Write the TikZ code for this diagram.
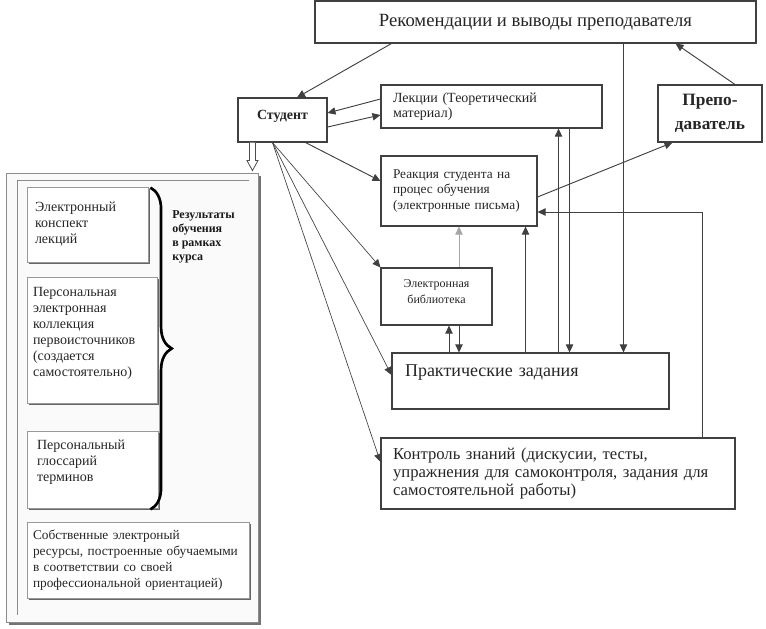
\documentclass[tikz,border=0pt]{standalone}
\usepackage{fontspec}
\setmainfont{Liberation Serif}
\usetikzlibrary{arrows.meta,calc,shadows,decorations.pathreplacing}

\tikzset{
  box/.style={draw=black!75, line width=0.8pt, fill=white, inner sep=0pt, text=black!85},
  lbox/.style={draw=black!40, line width=0.6pt, fill=white, inner ysep=0pt, align=left,
    text=black!85, font=\fontsize{10.5pt}{12pt}\selectfont,
    drop shadow={shadow xshift=1.5pt, shadow yshift=-1.5pt, fill=black!60, opacity=1}},
  conn/.style={draw=black!75, line width=0.7pt},
  arr/.style={conn, -{Triangle[length=6pt,width=5.5pt]}},
  fanarr/.style={arr, line width=0.5pt},
  brc/.style={decorate, decoration={brace, amplitude=16pt}, line width=2pt},
}

\begin{document}
\begin{tikzpicture}[x=0.75pt,y=-0.75pt]
	\useasboundingbox (0,0) rectangle (766,628);

	% main scheme
	\node[box, minimum width=330.75pt, minimum height=31.5pt, font=\fontsize{14pt}{16pt}\selectfont] (rek) at (535.5,22) {Рекомендации и выводы преподавателя};
	\node[box, minimum width=66.75pt, minimum height=33pt, text depth=7pt, font=\bfseries\fontsize{10.5pt}{12pt}\selectfont] (stud) at (282.5,120) {Студент};
	\node[box, minimum height=32.25pt, inner xsep=9pt, text width=147.75pt, align=left, font=\fontsize{10.5pt}{11.5pt}\selectfont] (lekc) at (491.5,106.5) {Лекции (Теоретический\\материал)};
	\node[box, minimum width=78pt, minimum height=42.75pt, align=center, font=\bfseries\fontsize{13pt}{18pt}\selectfont] (prep) at (710,113.5) {Препо-\\даватель};
	\node[box, minimum height=52.5pt, inner xsep=9pt, text width=99pt, align=left, font=\fontsize{10pt}{11.6pt}\selectfont] (reak) at (459,191) {Реакция студента на\\процес обучения\\(электронные письма)};
	\node[box, minimum height=42.75pt, text width=83.25pt, align=center, font=\fontsize{9pt}{12pt}\selectfont] (elib) at (436.5,296.5) {Электронная\\библиотека\par\vspace*{7.5pt}};
	\node[box, minimum height=42pt, inner xsep=9.75pt, text width=188.25pt, align=left, font=\fontsize{13.5pt}{16pt}\selectfont] (prakt) at (530.5,381) {Практические задания\par\vspace*{12pt}};
	\node[box, minimum height=53.25pt, inner xsep=9pt, text width=247.5pt, align=left, font=\fontsize{12.5pt}{13.75pt}\selectfont] (kontr) at (558,473.5) {Контроль знаний (дискусии, тесты,\\упражнения для самоконтроля, задания для\\самостоятельной работы)};

	% left panel
	\node[draw=black!45, fill=black!2, line width=0.6pt, inner sep=0pt, minimum width=189pt, minimum height=336.75pt,
		drop shadow={shadow xshift=2.5pt, shadow yshift=-2.5pt, fill=black!55, opacity=1}] (panel) at (132,397.5) {};
	\draw[black!45, line width=0.6pt] ($(panel.north east)+(-9,8)$) -- ($(panel.north west)+(12,8)$) -- ($(panel.south west)+(12,-7)$);

	\node[lbox, minimum height=56.25pt, inner xsep=6pt, text width=78.75pt] (b1) at (87.5,224.5) {Электронный\\конспект\\лекций};
	\node[lbox, minimum height=94.5pt, inner xsep=4.5pt, text width=88.5pt] (b2) at (92,340) {Персональная\\электронная\\коллекция\\первоисточников\\(создается\\самостоятельно)\par\vspace*{10.5pt}};
	\node[lbox, minimum height=57.75pt, inner xsep=7.5pt, text width=83.25pt] (b3) at (92.5,469.5) {Персональный\\глоссарий\\терминов\par\vspace*{10.5pt}};
	\node[lbox, minimum height=57pt, inner xsep=4.5pt, text width=157.5pt, font=\fontsize{10pt}{12pt}\selectfont] (b4) at (138,560) {Собственные электроный\\\mbox{ресурсы, построенные обучаемыми}\\в соответствии со своей\\\mbox{профессиональной ориентацией)}};

	\draw[brc] ($(b1.north east)+(2,1)$) -- ($(b3.south east)+(-8,1)$);
	\node[anchor=north west, inner sep=0pt, align=left, text=black!90, font=\bfseries\fontsize{9pt}{10.5pt}\selectfont] (res) at (172,210) {Результаты\\обучения\\в рамках\\курса};

	% hollow arrow down to the panel
	\draw[black!70, fill=white, line width=0.6pt] ($(stud.south west)+(12,0)$) -- ++(0,18) -- ++(-2.5,0) -- ++(5.5,10) -- ++(5.5,-10) -- ++(-2.5,0) -- ++(0,-18);

	% connectors
	\draw[arr] ($(rek.south west)+(77,0)$) -- ($(stud.north)+(14.5,0)$);
	\draw[arr] ($(lekc.west)+(0,-7.5)$) -- ($(stud.east)+(0,-7)$);
	\draw[arr] ($(stud.east)+(0,7)$) -- ($(lekc.west)+(0,8.5)$);
	\draw[arr] ($(stud.south east)+(-22,0)$) -- ($(reak.west)+(0,-10)$);

	\coordinate (fan) at ($(stud.south west)+(35,0)$);
	\draw[fanarr] (fan) -- (elib.north west);
	\draw[fanarr] (fan) -- ($(prakt.west)+(0,-6)$);
	\draw[fanarr] (fan) -- ($(kontr.west)+(0,-11.5)$);

	\draw[arr] ($(prep.north)+(25,0)$) -- ($(rek.south east)+(-81,0)$);
	\draw[arr] ($(reak.east)+(0,6)$) -- ($(prep.south west)+(15,0)$);
	\draw[arr] ($(kontr.north east)+(-33,0)$) |- ($(reak.east)+(0,21)$);

	\coordinate (x1) at ($(rek.south west)+(309,0)$);
	\coordinate (x2) at ($(lekc.south east)+(-33,0)$);
	\coordinate (x3) at ($(lekc.south east)+(-44,0)$);
	\coordinate (x4) at ($(reak.south east)+(-12,0)$);
	\coordinate (x5) at ($(elib.north)+(22.5,0)$);
	\coordinate (x6) at ($(elib.south)+(12.5,0)$);
	\coordinate (x7) at ($(elib.south)+(22.5,0)$);
	\draw[arr] (x1) -- (x1 |- prakt.north);
	\draw[arr] (x2) -- (x2 |- prakt.north);
	\draw[arr] (x3 |- prakt.north) -- (x3);
	\draw[arr] (x4 |- prakt.north) -- (x4);
	\draw[arr, draw=black!35] (x5) -- (x5 |- reak.south);
	\draw[arr] (x6 |- prakt.north) -- (x6);
	\draw[arr] (x7) -- (x7 |- prakt.north);
\end{tikzpicture}
\end{document}
